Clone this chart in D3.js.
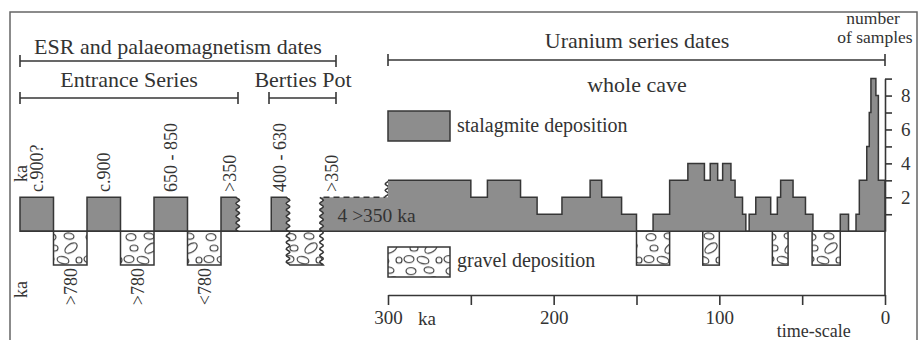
<!DOCTYPE html>
<html>
<head>
<meta charset="utf-8">
<script src="https://cdn.jsdelivr.net/npm/d3@7"></script>
<style>
body { margin: 0; background: #fff; }
text { font-family: "Liberation Serif", "Times New Roman", serif; fill: #333; }
</style>
</head>
<body>
<script>
// uranium series dates: bin edges in ka (oldest first) and number of samples per bin
var binEdges = [300, 250, 240, 220, 210, 195, 178, 171, 159, 150,
                140, 130, 119, 109, 105.5, 101, 98, 93, 90.5, 86,
                84, 82, 78, 69, 65, 63, 55.5, 48, 43.5, 27,
                22, 17.5, 15.5, 11, 9.5, 8.5, 5.5, 4, 0];
var counts = [3, 2, 3, 2, 1, 2, 3, 2, 1, 0,
              1, 3, 4, 3, 4, 3, 4, 3, 2, 1,
              0, 1, 2, 1, 2, 3, 2, 1, 0, 1,
              0, 1, 3, 5, 7, 9, 8, 3];
// gravel deposition periods on the uranium time scale (ka)
var gravelPeriods = [[150, 130], [110, 100], [68, 58.5], [44, 27]];

// ESR / palaeomagnetism part is schematic: positions are slots, not ka
var esrStal = [[0, 1], [2, 3], [4, 5], [6, 6.5], [7.5, 8]];
var esrStalWavy = [false, false, false, true, true];
var esrGravel = [[1, 2], [3, 4], [5, 6], [8, 9]];
var esrGravelWavy = [false, false, false, true];
var upperSlots = [0.5, 2.5, 4.5, 6.25, 7.75, 9.3];
var upperLabels = ["c.900?", "c.900", "650 - 850", ">350", "400 - 630", ">350"];
var lowerSlots = [1.5, 3.5, 5.5];
var lowerLabels = [">780", ">780", "<780"];

var timeTicks = [300, 250, 200, 150, 100, 50, 0];
var countTicks = [1, 2, 3, 4, 5, 6, 7, 8, 9];

var width = 919, height = 340;
var ink = "#363636", grey = "#8d8d8d";

var svg = d3.select("body").append("svg")
    .attr("width", width)
    .attr("height", height);

// scales
var x = d3.scaleLinear().domain([300, 0]).range([388, 885]);
var s = d3.scaleLinear().domain([0, 9]).range([20, 321.5]);
var y = d3.scaleLinear().domain([0, 9]).range([231.2, 78.6]);

// frame
svg.append("rect")
    .attr("x", 10).attr("y", 12)
    .attr("width", 907).attr("height", 340)
    .attr("fill", "none").attr("stroke", "#666").attr("stroke-width", 1.5);

// gravel pattern
var defs = svg.append("defs");
var pat = defs.append("pattern")
    .attr("id", "gravel")
    .attr("patternUnits", "userSpaceOnUse")
    .attr("width", 40).attr("height", 34)
    .attr("x", 3).attr("y", y(0));
pat.append("rect").attr("width", 40).attr("height", 34).attr("fill", "#fff");
var pebbles = [[8, 6, 5, 3.5, 0], [26, 5, 5, 3, 10], [11, 17, 4, 3, 0], [28, 17, 7, 4, -35],
               [6, 28, 5, 3.5, 0], [20, 29, 6, 3.5, 15], [36, 29, 3, 3, 0]];
pat.selectAll("ellipse")
    .data(pebbles)
  .enter().append("ellipse")
    .attr("cx", function(d) { return d[0]; })
    .attr("cy", function(d) { return d[1]; })
    .attr("rx", function(d) { return d[2]; })
    .attr("ry", function(d) { return d[3]; })
    .attr("transform", function(d) { return "rotate(" + d[4] + "," + d[0] + "," + d[1] + ")"; })
    .attr("fill", "none").attr("stroke", ink).attr("stroke-width", 1.1);

// wavy vertical edge from yA to yB
function wavyPts(x0, yA, yB) {
  var n = Math.round(Math.abs(yB - yA)), pts = [];
  for (var i = 0; i <= n; i++) {
    var yy = yA + (yB - yA) * i / n;
    pts.push([x0 + 1.8 * Math.sin((yy - 231) / 6.5 * 2 * Math.PI), yy]);
  }
  return pts;
}
var line = d3.line();

// headers and brackets
function bracket(x0, x1, yy) {
  var g = svg.append("g").attr("stroke", ink).attr("stroke-width", 1.6);
  g.append("line").attr("x1", x0).attr("x2", x1).attr("y1", yy).attr("y2", yy);
  g.append("line").attr("x1", x0).attr("x2", x0).attr("y1", yy - 6).attr("y2", yy + 6);
  g.append("line").attr("x1", x1).attr("x2", x1).attr("y1", yy - 6).attr("y2", yy + 6);
}
bracket(s(0), 336, 61);
bracket(s(0), 238, 98);
bracket(269, 336, 98);
bracket(x(300), x(0), 60);

function label(tx, ty, str, size, anchor) {
  return svg.append("text")
      .attr("x", tx).attr("y", ty)
      .attr("font-size", size)
      .style("text-anchor", anchor || "middle")
      .text(str);
}
label(178, 54, "ESR and palaeomagnetism dates", 22);
label(129, 87, "Entrance Series", 22);
label(303, 87, "Berties Pot", 22);
label(637, 48, "Uranium series dates", 22);
label(637, 92, "whole cave", 22);
label(873, 24, "number", 17.5);
label(875, 43, "of samples", 17.5);

// gravel (below baseline), ESR part
esrGravel.forEach(function(d, i) {
  var l = s(d[0]), r = s(d[1]), t = y(0), b = y(-2), pts;
  if (esrGravelWavy[i]) {
    pts = wavyPts(l, t, b).concat(wavyPts(r, b, t));
  } else {
    pts = [[l, t], [l, b], [r, b], [r, t]];
  }
  svg.append("path")
      .attr("d", line(pts) + "Z")
      .attr("fill", "url(#gravel)").attr("stroke", ink).attr("stroke-width", 1.5);
});

// gravel, uranium part
svg.selectAll(".ugravel")
    .data(gravelPeriods)
  .enter().append("rect")
    .attr("class", "ugravel")
    .attr("x", function(d) { return x(d[0]); })
    .attr("width", function(d) { return x(d[1]) - x(d[0]); })
    .attr("y", y(0))
    .attr("height", y(-2) - y(0))
    .attr("fill", "url(#gravel)").attr("stroke", ink).attr("stroke-width", 1.5);

// stalagmite blocks, ESR part
esrStal.forEach(function(d, i) {
  var l = s(d[0]), r = s(d[1]), t = y(2), b = y(0), pts;
  if (esrStalWavy[i]) {
    pts = [[l, b], [l, t]].concat(wavyPts(r, t, b));
  } else {
    pts = [[l, b], [l, t], [r, t], [r, b]];
  }
  svg.append("path")
      .attr("d", line(pts) + "Z")
      .attr("fill", grey).attr("stroke", ink).attr("stroke-width", 1.5);
});

// block >350 ka bridging into the uranium series
svg.append("path")
    .attr("d", line(wavyPts(s(9), y(0), y(2)).concat([[x(300), y(2)], [x(300), y(0)]])) + "Z")
    .attr("fill", grey);
svg.append("path")
    .attr("d", line(wavyPts(s(9), y(0), y(2))))
    .attr("fill", "none").attr("stroke", ink).attr("stroke-width", 1.5);
svg.append("line")
    .attr("x1", s(9) + 2).attr("x2", x(300) - 3)
    .attr("y1", y(2)).attr("y2", y(2))
    .attr("stroke", ink).attr("stroke-width", 1.5).attr("stroke-dasharray", "6,4");
svg.append("path")
    .attr("d", line(wavyPts(x(300) - 1, y(2), y(3))))
    .attr("fill", "none").attr("stroke", ink).attr("stroke-width", 1.5);

// uranium series histogram
var steps = binEdges.map(function(e, i) {
  return {ka: e, c: counts[Math.min(i, counts.length - 1)]};
});
var area = d3.area()
    .x(function(d) { return x(d.ka); })
    .y0(y(0))
    .y1(function(d) { return y(d.c); })
    .curve(d3.curveStepAfter);
svg.append("path")
    .datum(steps)
    .attr("d", area)
    .attr("fill", grey);
var outline = d3.line()
    .x(function(d) { return x(d.ka); })
    .y(function(d) { return y(d.c); })
    .curve(d3.curveStepAfter);
svg.append("path")
    .datum(steps.concat([{ka: 0, c: 0}]))
    .attr("d", outline)
    .attr("fill", "none").attr("stroke", ink).attr("stroke-width", 1.5);

label(s(9) + 16, 222, "4 >350 ka", 19.5, "start");

// baseline
svg.append("line")
    .attr("x1", s(0)).attr("x2", x(0))
    .attr("y1", y(0)).attr("y2", y(0))
    .attr("stroke", ink).attr("stroke-width", 1.5);

// rotated date labels
upperSlots.forEach(function(p, i) {
  svg.append("text")
      .attr("transform", "translate(" + s(p) + "," + 192 + ") rotate(-90)")
      .attr("dy", "0.35em")
      .attr("font-size", 18)
      .text(upperLabels[i]);
});
lowerSlots.forEach(function(p, i) {
  svg.append("text")
      .attr("transform", "translate(" + s(p) + "," + 268 + ") rotate(-90)")
      .attr("dy", "0.35em")
      .attr("font-size", 18)
      .style("text-anchor", "end")
      .text(lowerLabels[i]);
});
svg.append("text")
    .attr("transform", "translate(" + 21 + "," + 182 + ") rotate(-90)")
    .attr("dy", "0.35em").attr("font-size", 18).text("ka");
svg.append("text")
    .attr("transform", "translate(" + 21 + "," + 298 + ") rotate(-90)")
    .attr("dy", "0.35em").attr("font-size", 18).text("ka");

// legend
svg.append("rect")
    .attr("x", x(300)).attr("y", 111).attr("width", 62).attr("height", 30)
    .attr("fill", grey).attr("stroke", ink).attr("stroke-width", 1.5);
label(x(300) + 69, 132, "stalagmite deposition", 20, "start");
svg.append("rect")
    .attr("x", x(300)).attr("y", 247).attr("width", 62).attr("height", 30)
    .attr("fill", "url(#gravel)").attr("stroke", ink).attr("stroke-width", 1.5);
label(x(300) + 69, 267, "gravel deposition", 20, "start");

// time axis
var xAxis = svg.append("g")
    .attr("transform", "translate(0,295)")
    .call(d3.axisBottom(x)
        .tickValues(timeTicks)
        .tickSize(10)
        .tickSizeOuter(0)
        .tickPadding(6)
        .tickFormat(function(d) { return d % 100 === 0 ? d : ""; }));
xAxis.selectAll("text").attr("font-size", 19).attr("font-family", null).attr("fill", "#333");
xAxis.selectAll("path, line").attr("stroke", ink).attr("stroke-width", 1.6);
label(x(300) + 39, 325, "ka", 19);
label(x(43), 337, "time-scale", 18);

// number of samples axis
svg.append("line")
    .attr("x1", x(0)).attr("x2", x(0))
    .attr("y1", y(0)).attr("y2", 295)
    .attr("stroke", ink).attr("stroke-width", 1.6);
var yAxis = svg.append("g")
    .attr("transform", "translate(" + x(0) + ",0)")
    .call(d3.axisRight(y)
        .tickValues(countTicks)
        .tickSize(7)
        .tickSizeOuter(0)
        .tickPadding(9)
        .tickFormat(function(d) { return d % 2 === 0 ? d : ""; }));
yAxis.selectAll("text").attr("font-size", 19).attr("font-family", null).attr("fill", "#333");
yAxis.selectAll("path, line").attr("stroke", ink).attr("stroke-width", 1.6);
</script>
</body>
</html>
